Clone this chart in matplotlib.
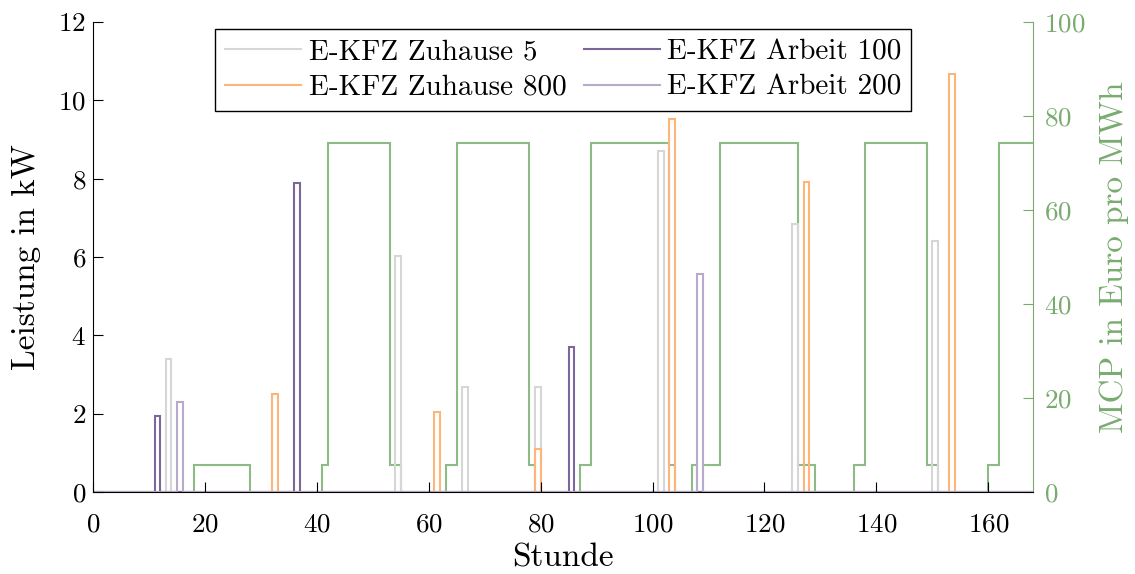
import numpy as np
import matplotlib
matplotlib.use('Agg')
import matplotlib.pyplot as plt

plt.rcParams['font.family'] = ['cmr10', 'DejaVu Serif']
plt.rcParams['axes.formatter.use_mathtext'] = True

hours = np.arange(169)  # stair edges, 0..168

# charging power per vehicle (hour -> kW)
zuhause5_h = [13, 54, 66, 79, 101, 125, 150]
zuhause5_kw = [3.4, 6.02, 2.69, 2.69, 8.7, 6.83, 6.4]
zuhause800_h = [32, 61, 79, 103, 127, 153]
zuhause800_kw = [2.49, 2.04, 1.09, 9.52, 7.92, 10.67]
arbeit100_h = [11, 36, 85]
arbeit100_kw = [1.95, 7.88, 3.71]
arbeit200_h = [15, 108]
arbeit200_kw = [2.29, 5.57]

# market clearing price, start hour of each level
mcp_start = [0, 18, 28, 41, 42, 53, 55, 63, 65, 78, 79, 87, 89, 103, 104,
             107, 108, 109, 112, 126, 129, 136, 138, 149, 151, 160, 162, 168]
mcp_level = [0, 5.7, 0, 5.7, 74.3, 5.7, 0, 5.7, 74.3, 5.7, 0, 5.7, 74.3, 5.7, 0,
             5.7, 0, 5.7, 74.3, 5.7, 0, 5.7, 74.3, 5.7, 0, 5.7, 74.3]

labels = ['E-KFZ Zuhause 5', 'E-KFZ Zuhause 800', 'E-KFZ Arbeit 100', 'E-KFZ Arbeit 200']
colors = ['#d6d6d6', '#fdb57a', '#7d6699', '#b9aacd']
green = '#79ab6f'


def hourly(h, v):
    arr = np.zeros(168)
    arr[h] = v
    return arr


series = [hourly(zuhause5_h, zuhause5_kw), hourly(zuhause800_h, zuhause800_kw),
          hourly(arbeit100_h, arbeit100_kw), hourly(arbeit200_h, arbeit200_kw)]
mcp = np.repeat(mcp_level, np.diff(mcp_start))

fig = plt.figure(figsize=(11.35, 5.74), dpi=100)
ax = fig.add_axes([93 / 1135, 82 / 574, 940 / 1135, 470 / 574])
ax2 = ax.twinx()

ax2.stairs(mcp, hours, baseline=None, color='#8dbb85', lw=1.5)
for s, c in zip(series, colors):
    ax.stairs(s, hours, color=c, lw=1.5)
ax.set_zorder(ax2.get_zorder() + 1)
ax.patch.set_visible(False)

ax.set_xlim(0, 168)
ax.set_ylim(0, 12)
ax2.set_ylim(0, 100)
ax.set_xticks(range(0, 161, 20))
ax.set_yticks(range(0, 13, 2))
ax2.set_yticks(range(0, 101, 20))

for a in (ax, ax2):
    a.spines['top'].set_visible(False)
ax.spines['right'].set_visible(False)
ax2.spines['left'].set_visible(False)
ax2.spines['bottom'].set_visible(False)
ax2.spines['right'].set_color(green)
ax.tick_params(direction='in', length=7, labelsize=19.5)
ax.tick_params(axis='x', pad=15)
ax.tick_params(axis='y', pad=5)
ax2.tick_params(direction='in', length=7, labelsize=19.5, colors=green, pad=8)

ax.set_xlabel('Stunde', fontsize=24, labelpad=5)
ax.set_ylabel('Leistung in kW', fontsize=24, labelpad=12)
ax2.set_ylabel('MCP in Euro pro MWh', fontsize=24, color=green, labelpad=10)

handles = [ax.plot([], [], color=c, lw=1.5)[0] for c in colors]
ax.legend(handles, labels, ncol=2, loc='upper left', bbox_to_anchor=(0.13, 0.985),
          fontsize=21, frameon=True, fancybox=False, framealpha=1,
          edgecolor='black', handlelength=2.6, columnspacing=0.6,
          borderpad=0.35, labelspacing=0.3, handletextpad=0.25, borderaxespad=0)

fig.savefig('out.png', dpi=100)
